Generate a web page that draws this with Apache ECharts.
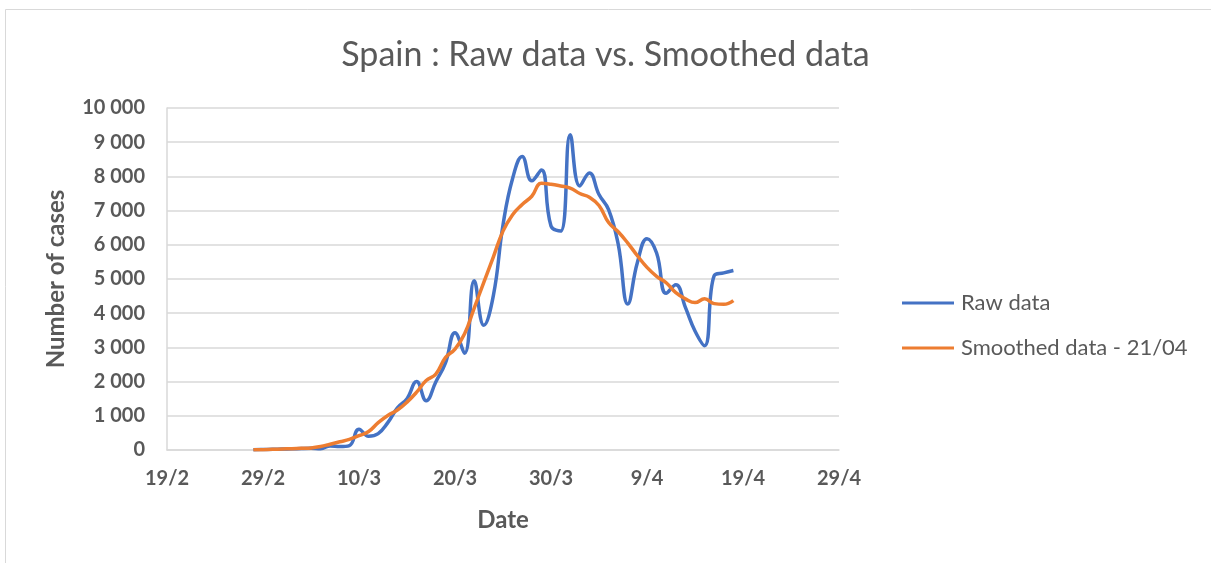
<!DOCTYPE html>
<html>
<head>
<meta charset="utf-8">
<script src="https://cdn.jsdelivr.net/npm/echarts@6/dist/echarts.min.js"></script>
<style>
html,body{margin:0;padding:0;background:#fff;}
#chart{width:1211px;height:563px;}
</style>
</head>
<body>
<div id="chart"></div>
<script>
const title = 'Spain : Raw data vs. Smoothed data';
const seriesNames = ['Raw data', 'Smoothed data - 21/04'];
const axisStart = [19, 2];   // 19/2/2020
const axisEnd = [29, 4];     // 29/4/2020
const dates = ['28/2','29/2',
 '1/3','2/3','3/3','4/3','5/3','6/3','7/3','8/3','9/3','10/3',
 '11/3','12/3','13/3','14/3','15/3','16/3','17/3','18/3','19/3','20/3',
 '21/3','22/3','23/3','24/3','25/3','26/3','27/3','28/3','29/3','30/3','31/3',
 '1/4','2/4','3/4','4/4','5/4','6/4','7/4','8/4','9/4','10/4',
 '11/4','12/4','13/4','14/4','15/4','16/4','17/4','18/4'];
const rawData = [10,15,
 20,30,35,45,50,40,120,100,130,610,
 400,480,800,1230,1500,2000,1440,1990,2540,3430,
 2830,4950,3650,4520,6580,7940,8580,7870,8190,6550,6400,
 9220,7720,8100,7470,7030,6020,4270,5480,6180,5760,
 4580,4830,4170,3480,3050,5100,5180,5250];
const smoothedData = [5,10,
 20,30,40,50,60,100,170,240,310,420,
 540,800,1010,1170,1400,1690,2030,2220,2700,2950,
 3400,4150,4900,5650,6400,6880,7180,7420,7800,7770,7720,
 7660,7500,7390,7150,6650,6380,6050,5680,5340,5080,
 4890,4600,4420,4310,4420,4280,4260,4370];

const DAY = 86400000;
function toUTC(dm){ return Date.UTC(2020, dm[1]-1, dm[0]); }
const t0 = toUTC(axisStart);
function dayIndex(s){ const p = s.split('/').map(Number); return Math.round((toUTC(p) - t0)/DAY); }
const xMax = Math.round((toUTC(axisEnd) - t0)/DAY);
function fmtDay(v){ const d = new Date(t0 + v*DAY); return d.getUTCDate() + '/' + (d.getUTCMonth()+1); }

const rawPts = dates.map((d,i)=>[dayIndex(d), rawData[i]]);
const smPts = dates.map((d,i)=>[dayIndex(d), smoothedData[i]]);

const FONT = 'Lato, "Open Sans", sans-serif';
const chart = echarts.init(document.getElementById('chart'), null, {renderer:'canvas'});
chart.setOption({
  animation:false,
  backgroundColor:'#fff',
  graphic:[{type:'rect', shape:{x:5.5,y:9.5,width:1300,height:700}, style:{fill:'none', stroke:'#D9D9D9', lineWidth:1}, silent:true}],
  title:{text:title, left:'center', top:33, textStyle:{fontFamily:FONT, fontSize:34, fontWeight:'normal', color:'#595959'}},
  legend:{
    orient:'vertical', left:897, top:287, itemGap:23, itemWidth:52, itemHeight:3,
    icon:'rect',
    textStyle:{fontFamily:FONT, fontSize:22, color:'#595959', padding:[0,0,0,2]},
    data:seriesNames
  },
  grid:{left:167, right:372, top:108, bottom:113, containLabel:false},
  xAxis:{
    type:'value', min:0, max:xMax, interval:10,
    name:'Date', nameLocation:'middle', nameGap:58,
    nameTextStyle:{fontFamily:FONT, fontSize:24, fontWeight:'bold', color:'#595959'},
    axisLine:{show:true, lineStyle:{color:'#D9D9D9', width:1.5}},
    axisTick:{show:false},
    splitLine:{show:false},
    axisLabel:{formatter:fmtDay, margin:19, fontFamily:FONT, fontSize:20, fontWeight:'bold', color:'#595959'}
  },
  yAxis:{
    type:'value', min:0, max:10000, interval:1000,
    name:'Number of cases', nameLocation:'middle', nameGap:99, nameRotate:90,
    nameTextStyle:{fontFamily:FONT, fontSize:24, fontWeight:'bold', color:'#595959'},
    axisLine:{show:true, lineStyle:{color:'#D9D9D9', width:1.5}},
    axisTick:{show:false},
    splitLine:{show:true, lineStyle:{color:'#D9D9D9', width:1.5}},
    axisLabel:{margin:22, fontFamily:FONT, fontSize:20, fontWeight:'bold', color:'#595959',
      formatter:v=>String(v).replace(/\B(?=(\d{3})+(?!\d))/g,' ')}
  },
  series:[
    {name:seriesNames[0], type:'line', data:rawPts, smooth:0.45, showSymbol:false, symbol:'none',
     lineStyle:{color:'#4472C4', width:3.5}, itemStyle:{color:'#4472C4'}},
    {name:seriesNames[1], type:'line', data:smPts, smooth:0.45, showSymbol:false, symbol:'none',
     lineStyle:{color:'#ED7D31', width:3.5}, itemStyle:{color:'#ED7D31'}}
  ]
});
</script>
</body>
</html>
